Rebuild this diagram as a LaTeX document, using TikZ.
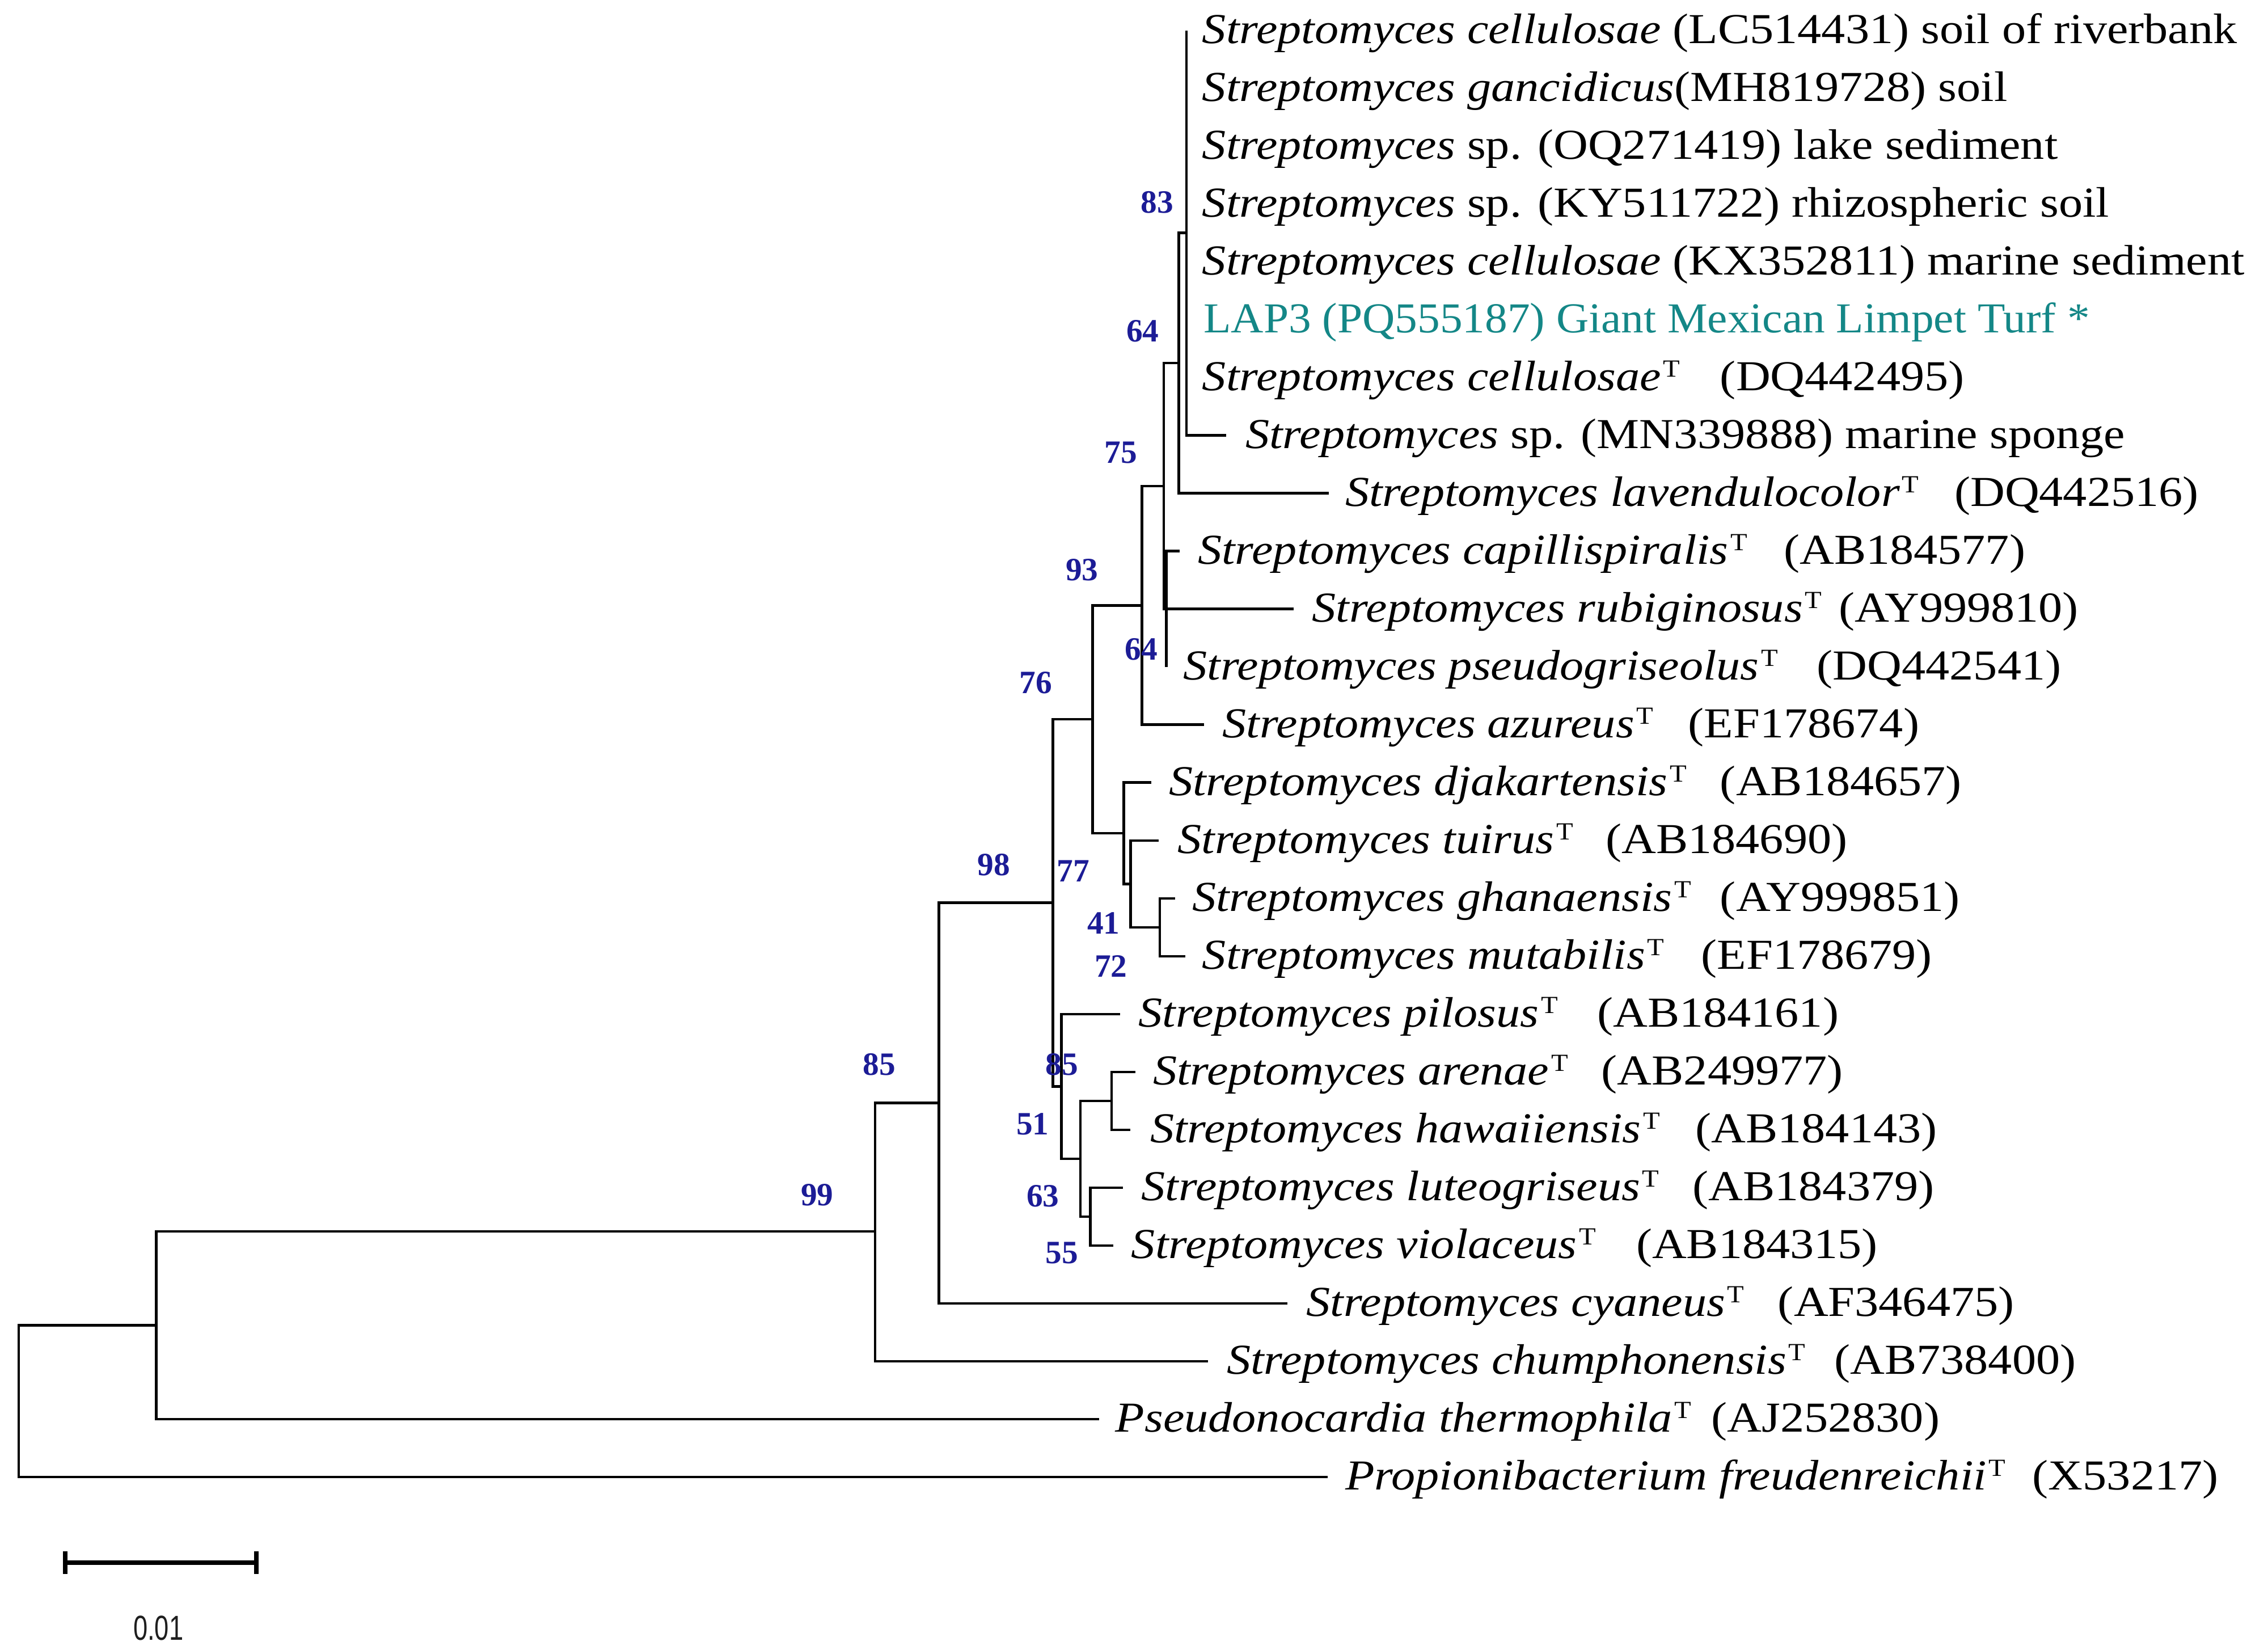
\documentclass[tikz,border=0pt]{standalone}
\usepackage{fontspec}
\setmainfont{Liberation Serif}[FakeStretch=1.12]
\newfontfamily\lapfont{Liberation Serif}[FakeStretch=1.055]
\newfontfamily\bsfont{Liberation Serif}
\newfontfamily\sbfont{Liberation Sans}[FakeStretch=0.74]
\definecolor{bsblue}{RGB}{28,28,150}
\definecolor{lapteal}{RGB}{20,135,135}
\definecolor{sbgray}{RGB}{30,30,30}
\newcommand{\Tmark}{\kern1.5pt\raisebox{9.5pt}{\fontsize{17}{17}\selectfont T}}
\begin{document}
\begin{tikzpicture}[x=1pt,y=-1pt,
  branch/.style={line width=1.8pt},
  leaf/.style={anchor=base west, inner sep=0pt, yshift=-9pt, font=\fontsize{29.5}{30}\selectfont},
  boot/.style={inner sep=0pt, text=bsblue, font=\bsfont\bfseries\fontsize{22.5}{22.5}\selectfont},
  sbar/.style={line width=3pt}]
\useasboundingbox[fill=white] (0,0) rectangle (1568,1140.6);
% ---------- leaf tips ----------
\coordinate (L0) at (820.3,21);
\coordinate (L1) at (820.3,61);
\coordinate (L2) at (820.3,101);
\coordinate (L3) at (820.3,141);
\coordinate (L4) at (820.3,181);
\coordinate (L5) at (820.3,221);
\coordinate (L6) at (820.3,261);
\coordinate (L7) at (847.6,301);
\coordinate (L8) at (918.7,341);
\coordinate (L9) at (815.5,381);
\coordinate (L10) at (894.2,421);
\coordinate (L11) at (806.4,461);
\coordinate (L12) at (832.5,501);
\coordinate (L13) at (796,541);
\coordinate (L14) at (801.2,581);
\coordinate (L15) at (812.3,621);
\coordinate (L16) at (819.5,661);
\coordinate (L17) at (774.4,701);
\coordinate (L18) at (784.8,741);
\coordinate (L19) at (781.6,781);
\coordinate (L20) at (776.3,821);
\coordinate (L21) at (769.8,861);
\coordinate (L22) at (890,901);
\coordinate (L23) at (835,941);
\coordinate (L24) at (760,981);
\coordinate (L25) at (918,1021);
% ---------- internal nodes ----------
\coordinate (N83) at (820.3,161);
\coordinate (N64a) at (815,251);
\coordinate (Ncp) at (806.4,421);
\coordinate (N75) at (804.5,336);
\coordinate (N93) at (789.5,418.5);
\coordinate (N41) at (801.8,641);
\coordinate (Ntu) at (781.6,611);
\coordinate (N77) at (777,576);
\coordinate (N76) at (755.4,497.25);
\coordinate (Nah) at (768.5,761);
\coordinate (N55) at (753.8,841);
\coordinate (N51) at (746.9,801);
\coordinate (N85b) at (733.8,751);
\coordinate (N98) at (728,624.1);
\coordinate (N85) at (649,762.5);
\coordinate (N99) at (605,851.25);
\coordinate (Nr1) at (108,916.1);
\coordinate (root) at (13,968.5);
% ---------- branches ----------
\foreach \c in {L0,L1,L2,L3,L4,L5,L6,L7} \draw[branch] (N83) |- (\c);
\draw[branch] (N64a) |- (N83);
\draw[branch] (N64a) |- (L8);
\draw[branch] (Ncp) |- (L9);
\draw[branch] (Ncp) |- (L11);
\draw[branch] (N75) |- (N64a);
\draw[branch] (N75) |- (L10);
\draw[branch] (N75) |- (Ncp);
\draw[branch] (N93) |- (N75);
\draw[branch] (N93) |- (L12);
\draw[branch] (N41) |- (L15);
\draw[branch] (N41) |- (L16);
\draw[branch] (Ntu) |- (L14);
\draw[branch] (Ntu) |- (N41);
\draw[branch] (N77) |- (L13);
\draw[branch] (N77) |- (Ntu);
\draw[branch] (N76) |- (N93);
\draw[branch] (N76) |- (N77);
\draw[branch] (Nah) |- (L18);
\draw[branch] (Nah) |- (L19);
\draw[branch] (N55) |- (L20);
\draw[branch] (N55) |- (L21);
\draw[branch] (N51) |- (Nah);
\draw[branch] (N51) |- (N55);
\draw[branch] (N85b) |- (L17);
\draw[branch] (N85b) |- (N51);
\draw[branch] (N98) |- (N76);
\draw[branch] (N98) |- (N85b);
\draw[branch] (N85) |- (N98);
\draw[branch] (N85) |- (L22);
\draw[branch] (N99) |- (N85);
\draw[branch] (N99) |- (L23);
\draw[branch] (Nr1) |- (N99);
\draw[branch] (Nr1) |- (L24);
\draw[branch] (root) |- (Nr1);
\draw[branch] (root) |- (L25);
% ---------- leaf labels ----------
\node[leaf] (t0) at (831,21) {\textit{Streptomyces cellulosae} (LC514431) soil of riverbank};
\node[leaf] (t1) at (831,61) {\textit{Streptomyces gancidicus}(MH819728) soil};
\node[leaf] (t2) at (831,101) {\textit{Streptomyces} sp. (OQ271419) lake sediment};
\node[leaf] (t3) at (831,141) {\textit{Streptomyces} sp. (KY511722) rhizospheric soil};
\node[leaf] (t4) at (831,181) {\textit{Streptomyces cellulosae} (KX352811) marine sediment};
\node[leaf, text=lapteal] (t5) at (832,221) {\lapfont LAP3 (PQ555187) Giant Mexican Limpet Turf *};
\node[leaf] (t6) at (831,261) {\textit{Streptomyces cellulosae}\Tmark};
\node[leaf] (a6) at (1189,261) {(DQ442495)};
\node[leaf] (t7) at (861,301) {\textit{Streptomyces} sp. (MN339888) marine sponge};
\node[leaf] (t8) at (930,341) {\textit{Streptomyces lavendulocolor}\Tmark};
\node[leaf] (a8) at (1351,341) {(DQ442516)};
\node[leaf] (t9) at (828,381) {\textit{Streptomyces capillispiralis}\Tmark};
\node[leaf] (a9) at (1233,381) {(AB184577)};
\node[leaf] (t10) at (907,421) {\textit{Streptomyces rubiginosus}\Tmark};
\node[leaf] (a10) at (1271,421) {(AY999810)};
\node[leaf] (t11) at (818,461) {\textit{Streptomyces pseudogriseolus}\Tmark};
\node[leaf] (a11) at (1256,461) {(DQ442541)};
\node[leaf] (t12) at (845,501) {\textit{Streptomyces azureus}\Tmark};
\node[leaf] (a12) at (1167,501) {(EF178674)};
\node[leaf] (t13) at (808,541) {\textit{Streptomyces djakartensis}\Tmark};
\node[leaf] (a13) at (1189,541) {(AB184657)};
\node[leaf] (t14) at (814,581) {\textit{Streptomyces tuirus}\Tmark};
\node[leaf] (a14) at (1110,581) {(AB184690)};
\node[leaf] (t15) at (824,621) {\textit{Streptomyces ghanaensis}\Tmark};
\node[leaf] (a15) at (1189,621) {(AY999851)};
\node[leaf] (t16) at (831,661) {\textit{Streptomyces mutabilis}\Tmark};
\node[leaf] (a16) at (1176,661) {(EF178679)};
\node[leaf] (t17) at (787,701) {\textit{Streptomyces pilosus}\Tmark};
\node[leaf] (a17) at (1104,701) {(AB184161)};
\node[leaf] (t18) at (797,741) {\textit{Streptomyces arenae}\Tmark};
\node[leaf] (a18) at (1107,741) {(AB249977)};
\node[leaf] (t19) at (795,781) {\textit{Streptomyces hawaiiensis}\Tmark};
\node[leaf] (a19) at (1172,781) {(AB184143)};
\node[leaf] (t20) at (789,821) {\textit{Streptomyces luteogriseus}\Tmark};
\node[leaf] (a20) at (1170,821) {(AB184379)};
\node[leaf] (t21) at (782,861) {\textit{Streptomyces violaceus}\Tmark};
\node[leaf] (a21) at (1131,861) {(AB184315)};
\node[leaf] (t22) at (903,901) {\textit{Streptomyces cyaneus}\Tmark};
\node[leaf] (a22) at (1229,901) {(AF346475)};
\node[leaf] (t23) at (848,941) {\textit{Streptomyces chumphonensis}\Tmark};
\node[leaf] (a23) at (1268,941) {(AB738400)};
\node[leaf] (t24) at (771,981) {\textit{Pseudonocardia thermophila}\Tmark};
\node[leaf] (a24) at (1183,981) {(AJ252830)};
\node[leaf] (t25) at (930,1021) {\textit{Propionibacterium freudenreichii}\Tmark};
\node[leaf] (a25) at (1405,1021) {(X53217)};
% ---------- bootstrap values ----------
\node[boot] (b83) at (800,140) {83};
\node[boot] (b64a) at (790,229) {64};
\node[boot] (b75) at (775,313) {75};
\node[boot] (b93) at (748,394) {93};
\node[boot] (b64b) at (789,449) {64};
\node[boot] (b76) at (716,472) {76};
\node[boot] (b98) at (687,598) {98};
\node[boot] (b77) at (742,602) {77};
\node[boot] (b41) at (763,638) {41};
\node[boot] (b72) at (768,668) {72};
\node[boot] (b85b) at (734,736) {85};
\node[boot] (b51) at (714,777) {51};
\node[boot] (b63) at (721,827) {63};
\node[boot] (b55) at (734,866) {55};
\node[boot] (b85) at (608,736) {85};
\node[boot] (b99) at (565,826) {99};
% ---------- scale bar ----------
\coordinate (sbL) at (45.1,1080.2);
\coordinate (sbR) at (177.1,1080.2);
\draw[sbar] (sbL) -- (sbR);
\draw[sbar] ([yshift=8pt]sbL) -- ([yshift=-8pt]sbL);
\draw[sbar] ([yshift=8pt]sbR) -- ([yshift=-8pt]sbR);
\node[inner sep=0pt, text=sbgray, font=\sbfont\fontsize{24}{24}\selectfont] (sblab) at (109.5,1125.3) {0.01};
\end{tikzpicture}
\end{document}
